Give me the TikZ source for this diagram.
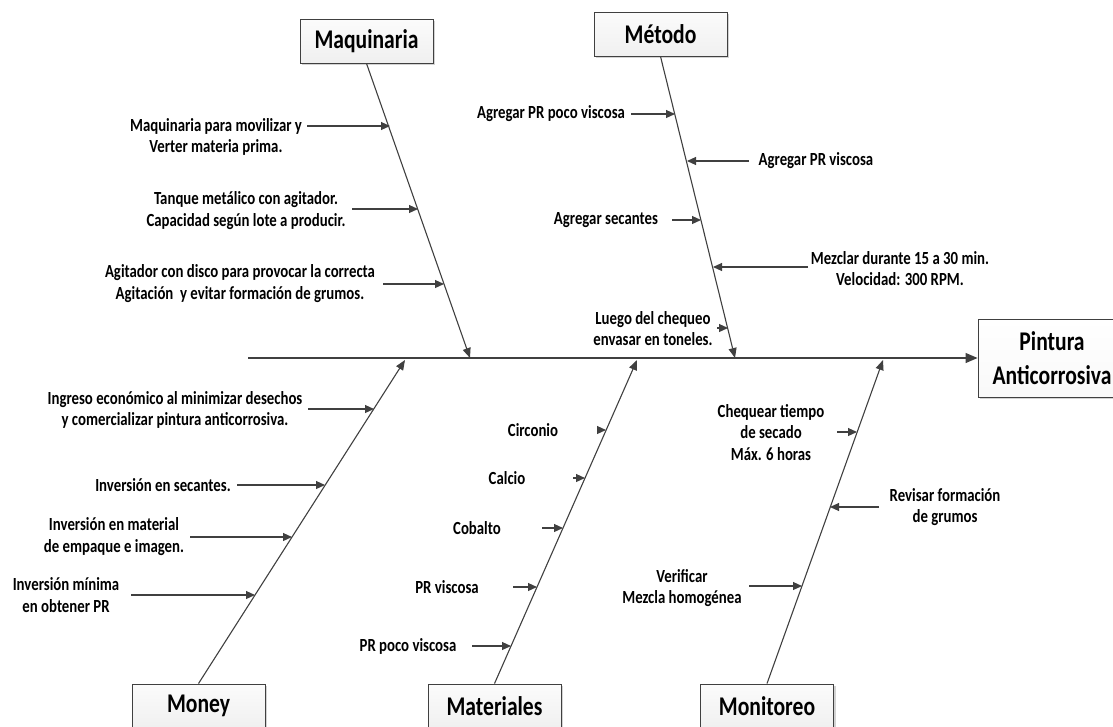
\documentclass[tikz,border=0pt]{standalone}
\usepackage{fontspec}
\setmainfont{Carlito}[FakeStretch=0.8]
\usetikzlibrary{arrows.meta,shadows}
\definecolor{ink}{HTML}{404040}
\begin{document}
\begin{tikzpicture}[x=1pt,y=-1pt,
  catbox/.style={draw=ink, line width=0.9pt, top color=gray!3, bottom color=gray!12,
    minimum width=133pt, minimum height=44pt, inner sep=0pt,
    font=\fontsize{27}{30}\selectfont\bfseries,
    drop shadow={opacity=0.35, shadow xshift=2pt, shadow yshift=-2pt}},
  lbl/.style={font=\fontsize{18.5}{21.5}\selectfont\bfseries, align=center, inner sep=0pt},
  bone/.style={draw=ink, line width=1.1pt, -{Triangle[length=10pt,width=8pt]}},
  spine/.style={draw=ink, line width=1.1pt, -{Triangle[length=12pt,width=10pt]}},
  sub/.style={draw=ink, line width=1.1pt, -{Triangle[length=9pt,width=8pt]}}]
\useasboundingbox (0,0) rectangle (1113,726);
\clip (0,0) rectangle (1113,726);

% category boxes and effect box
\node[catbox] (maq) at (366.5,41) {Maquinaria};
\node[catbox] (met) at (660.5,34) {Método};
\node[catbox] (mon) at (198.5,706) {Money};
\node[catbox] (mat) at (494.5,706) {Materiales};
\node[catbox] (moni) at (767,706) {Monitoreo};
\node[catbox, minimum width=148pt, minimum height=78pt, top color=white, bottom color=gray!5,
      align=center, font=\fontsize{27}{34}\selectfont\bfseries] (pint) at (1052,358) {Pintura\\Anticorrosiva};

% spine and main bones
\coordinate (tail) at (248,358);
\coordinate (maqH) at (470,358);
\coordinate (metH) at (735,358);
\coordinate (monH) at (405,360);
\coordinate (matH) at (637,360);
\coordinate (moniH) at (883,360);
\draw[spine] (tail) -- (pint.west);
\draw[bone] (maq.south) -- (maqH);
\draw[bone] (met.south) -- (metH);
\draw[bone] (mon.north) -- (monH);
\draw[bone] (mat.north) -- (matH);
\draw[bone] (moni.north) -- (moniH);

% Maquinaria causes
\node[lbl] (q1) at (216,137) {Maquinaria para movilizar y\\Verter materia prima.};
\node[lbl] (q2) at (246,210.5) {Tanque metálico con agitador.\\Capacidad según lote a producir.};
\node[lbl] (q3) at (240,283.5) {Agitador con disco para provocar la correcta\\Agitación\ \ y evitar formación de grumos.};
\coordinate (q1t) at (307,126); \coordinate (q1h) at (390,126);
\coordinate (q2t) at (352,209); \coordinate (q2h) at (418,209);
\coordinate (q3t) at (383,284); \coordinate (q3h) at (444,284);
\draw[sub] (q1t) -- (q1h);
\draw[sub] (q2t) -- (q2h);
\draw[sub] (q3t) -- (q3h);

% Método causes
\node[lbl] (m1) at (551,114) {Agregar PR poco viscosa};
\node[lbl] (m2) at (816,161) {Agregar PR viscosa};
\node[lbl] (m3) at (606,220) {Agregar secantes};
\node[lbl] (m4) at (900,268.5) {Mezclar durante 15 a 30 min.\\Velocidad: 300 RPM.};
\node[lbl] (m5) at (653,328.5) {Luego del chequeo\\envasar en toneles.};
\coordinate (m1t) at (631,114); \coordinate (m1h) at (675,114);
\coordinate (m2t) at (749,161); \coordinate (m2h) at (687,161);
\coordinate (m3t) at (672,220); \coordinate (m3h) at (701,220);
\coordinate (m4t) at (808,267); \coordinate (m4h) at (713,267);
\coordinate (m5t) at (717,328); \coordinate (m5h) at (728,328);
\draw[sub] (m1t) -- (m1h);
\draw[sub] (m2t) -- (m2h);
\draw[sub] (m3t) -- (m3h);
\draw[sub] (m4t) -- (m4h);
\draw[sub] (m5t) -- (m5h);

% Money causes
\node[lbl] (d1) at (175,410) {Ingreso económico al minimizar desechos\\y comercializar pintura anticorrosiva.};
\node[lbl] (d2) at (163,485) {Inversión en secantes.};
\node[lbl] (d3) at (114,536.5) {Inversión en material\\de empaque e imagen.};
\node[lbl] (d4) at (66,595) {Inversión mínima\\en obtener PR};
\coordinate (d1t) at (308,409); \coordinate (d1h) at (374,409);
\coordinate (d2t) at (237,485); \coordinate (d2h) at (325,485);
\coordinate (d3t) at (190,537); \coordinate (d3h) at (292,537);
\coordinate (d4t) at (131,595); \coordinate (d4h) at (255,595);
\draw[sub] (d1t) -- (d1h);
\draw[sub] (d2t) -- (d2h);
\draw[sub] (d3t) -- (d3h);
\draw[sub] (d4t) -- (d4h);

% Materiales causes
\node[lbl] (t1) at (533,430) {Circonio};
\node[lbl] (t2) at (507,478) {Calcio};
\node[lbl] (t3) at (477,528) {Cobalto};
\node[lbl] (t4) at (447,587) {PR viscosa};
\node[lbl] (t5) at (408,646) {PR poco viscosa};
\coordinate (t1t) at (597,430); \coordinate (t1h) at (606,430);
\coordinate (t2t) at (573,478); \coordinate (t2h) at (585,478);
\coordinate (t3t) at (542,528); \coordinate (t3h) at (563,528);
\coordinate (t4t) at (513,587); \coordinate (t4h) at (537,587);
\coordinate (t5t) at (472,646); \coordinate (t5h) at (511,646);
\draw[sub] (t1t) -- (t1h);
\draw[sub] (t2t) -- (t2h);
\draw[sub] (t3t) -- (t3h);
\draw[sub] (t4t) -- (t4h);
\draw[sub] (t5t) -- (t5h);

% Monitoreo causes
\node[lbl] (n1) at (771,432.5) {Chequear tiempo\\de secado\\Máx. 6 horas};
\node[lbl] (n2) at (945,507) {Revisar formación\\de grumos};
\node[lbl] (n3) at (682,588) {Verificar\\Mezcla homogénea};
\coordinate (n1t) at (837,432); \coordinate (n1h) at (857,432);
\coordinate (n2t) at (879,507); \coordinate (n2h) at (830,507);
\coordinate (n3t) at (749,586); \coordinate (n3h) at (802,586);
\draw[sub] (n1t) -- (n1h);
\draw[sub] (n2t) -- (n2h);
\draw[sub] (n3t) -- (n3h);
\end{tikzpicture}
\end{document}
